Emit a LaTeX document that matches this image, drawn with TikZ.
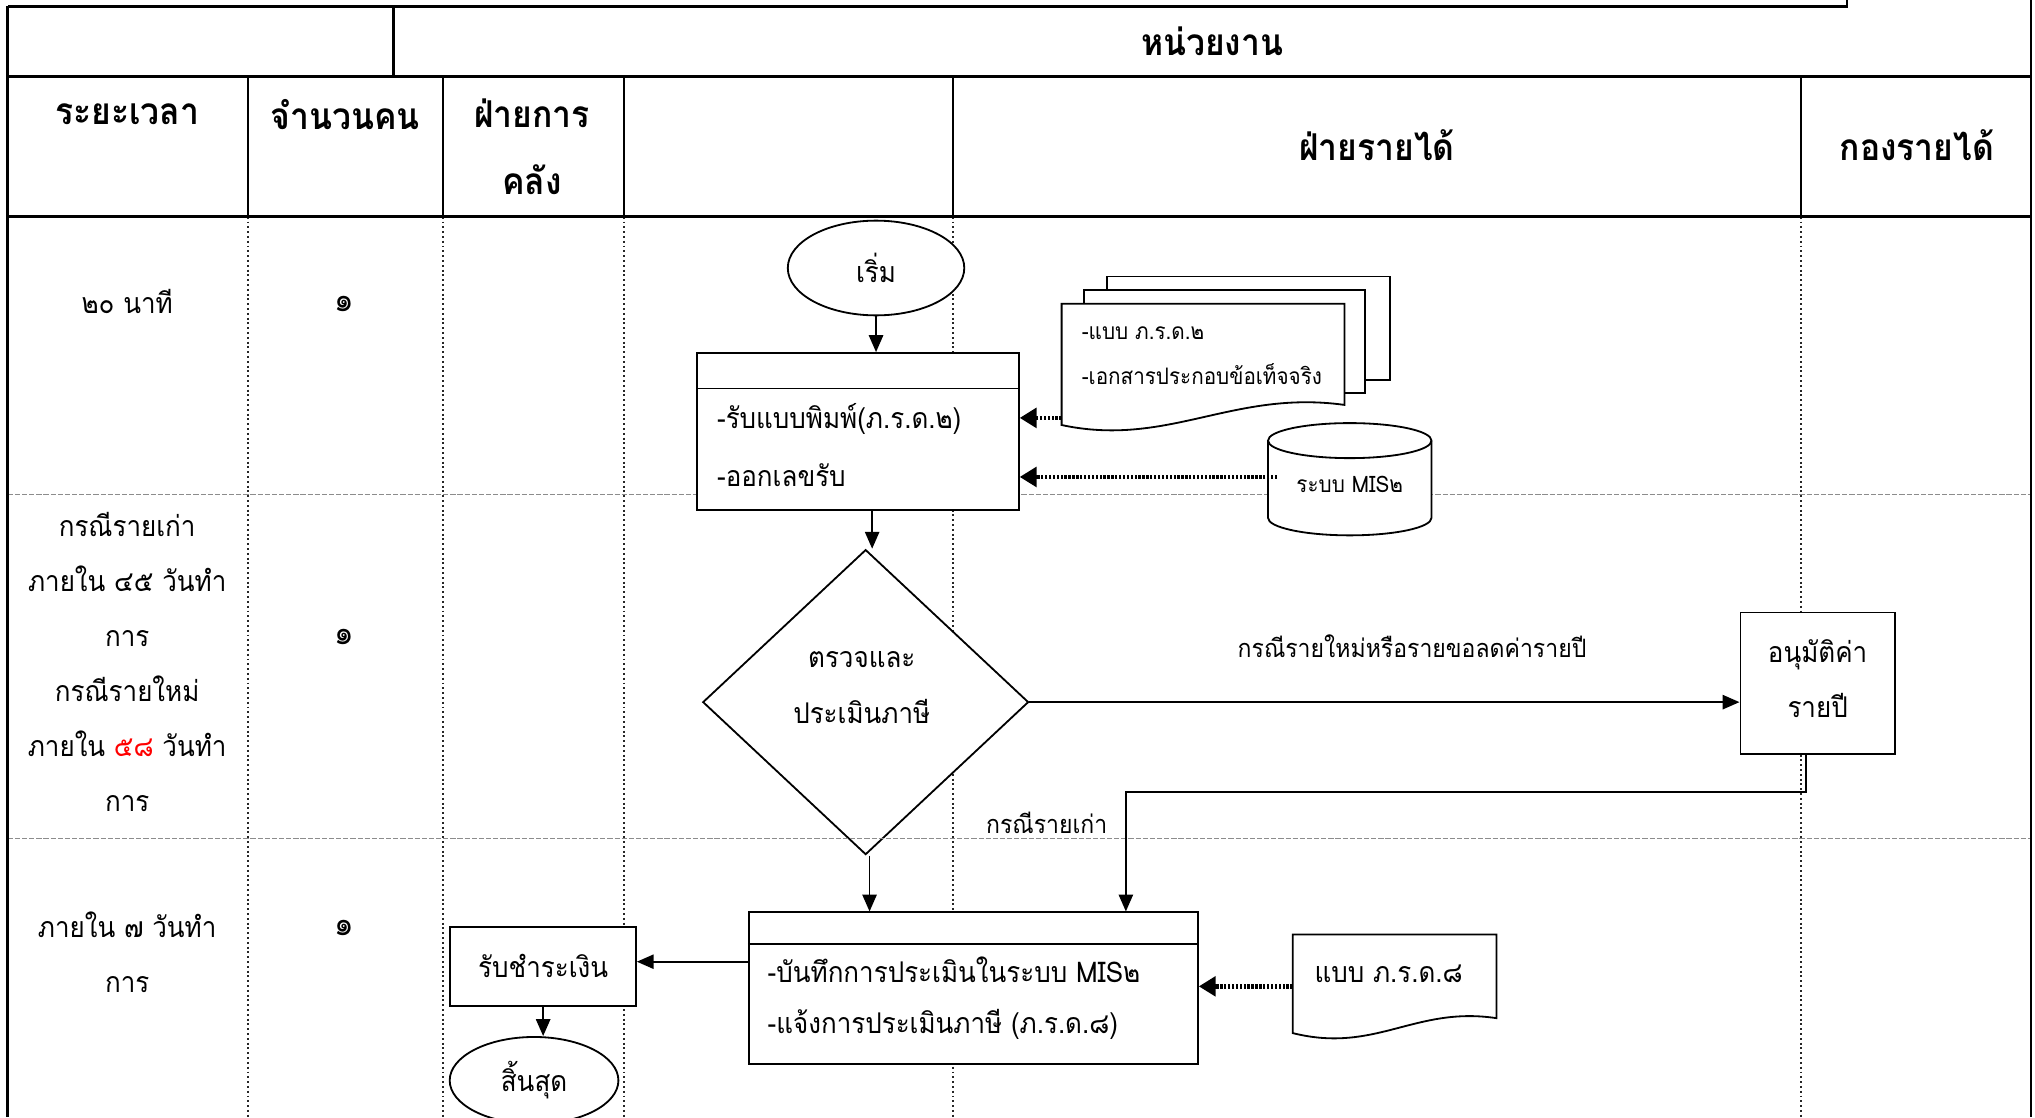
\documentclass[tikz,border=0pt]{standalone}
\usepackage{fontspec}
\setmainfont[Script=Thai, FakeStretch=0.91]{Loma}
\usetikzlibrary{arrows.meta,shapes.geometric,calc}

\begin{document}
\begin{tikzpicture}[x=1pt,y=-1pt,
  frame/.style={line width=2pt},
  lane/.style={line width=1.5pt, black!85, dash pattern=on 1.5pt off 2.2pt},
  rowsep/.style={line width=1pt, black!45, dash pattern=on 4pt off 1.5pt},
  flow/.style={line width=1.4pt},
  arr/.style={flow, -{Triangle[length=13pt,width=11pt]}},
  dotarr/.style={line width=3.6pt, dash pattern=on 1.8pt off 1.2pt,
                 -{Triangle[length=13pt,width=15pt]}},
  head/.style={font=\fontsize{28.5}{32}\selectfont\bfseries},
  body/.style={font=\fontsize{22}{26}\selectfont},
  digit/.style={font=\fontsize{26}{30}\selectfont},
  small/.style={font=\fontsize{17.5}{21}\selectfont},
  lbl/.style={font=\fontsize{19.5}{23}\selectfont},
  box/.style={flow, draw, fill=white, rectangle, inner sep=0pt},
]
\useasboundingbox (0,0) rectangle (1568,861);

% ---------- swim lane guides ----------
\foreach \x in {191,341,481,734,1388} \draw[lane] (\x,167) -- (\x,861);

% ---------- decision ----------
\node[diamond, draw, flow, fill=white, minimum width=251pt, minimum height=235pt,
      inner sep=0pt] (check) at (667,541) {};
\node[body, align=center, font=\fontsize{22}{43}\selectfont] (checkTxt) at (664,529.5)
      {ตรวจและ\\ประเมินภาษี};

% ---------- time bands ----------
\draw[rowsep] (6,381) -- (1566,381);
\draw[rowsep] (6,646) -- (1566,646);

% ---------- table frame ----------
\draw[frame] (6,5) -- (1423,5) -- (1423,0);
\draw[frame] (6,5) -- (6,861);
\draw[frame] (1565,0) -- (1565,861);
\draw[frame] (6,59) -- (1565,59);
\draw[frame] (6,167) -- (1565,167);
\draw[frame] (303,5) -- (303,59);
\foreach \x in {191,341,481,734,1388} \draw[line width=1.5pt] (\x,59) -- (\x,167);

% ---------- headings ----------
\node[head] (hUnit) at (934,32) {หน่วยงาน};
\node[head] (hTime) at (98,88) {ระยะเวลา};
\node[head] (hPeople) at (266,88) {จำนวนคน};
\node[head, align=center, font=\fontsize{28.5}{52}\selectfont\bfseries] (hFin) at (410,113) {ฝ่ายการ\\คลัง};
\node[head] (hRev) at (1061,112) {ฝ่ายรายได้};
\node[head] (hDiv) at (1477,112) {กองรายได้};

% ---------- time and staff columns ----------
\node[body] (t1) at (98,232) {๒๐ นาที};
\node[digit] (n1) at (265,234) {๑};
\node[body, align=center, font=\fontsize{22}{42.4}\selectfont] (t2) at (98,510)
  {กรณีรายเก่า\\ภายใน ๔๕ วันทำ\\การ\\กรณีรายใหม่\\ภายใน \textcolor{red}{๕๘} วันทำ\\การ};
\node[digit] (n2) at (265,491) {๑};
\node[body, align=center, font=\fontsize{22}{42.4}\selectfont] (t3) at (98,734)
  {ภายใน ๗ วันทำ\\การ};
\node[digit] (n3) at (265,715) {๑};

% ---------- documents ----------
\draw[flow, fill=white] (853,213) rectangle (1071,292.8);
\draw[flow, fill=white] (835,223.5) rectangle (1052,302.6);
\draw[flow, fill=white] (818,234) -- (1036,234) -- (1036,312)
   .. controls (950,300) and (900,345) .. (818,327.5) -- cycle;
\node[small, anchor=west] (d1a) at (830,257) {-แบบ ภ.ร.ด.๒};
\node[small, anchor=west] (d1b) at (830,288) {-เอกสารประกอบข้อเท็จจริง};
\coordinate (docIn) at (818,322);

\draw[flow, fill=white] (996,720) -- (1153,720) -- (1153,784.5)
   .. controls (1090,775) and (1060,812) .. (996,796) -- cycle;
\node[body] (d8) at (1070,750) {แบบ ภ.ร.ด.๘};
\coordinate (docOut) at (996,760);

% ---------- database ----------
\draw[flow, fill=white] (977,339.5) -- (977,399)
   arc[start angle=180, end angle=360, x radius=63pt, y radius=13.5pt]
   -- (1103,339.5)
   arc[start angle=0, end angle=180, x radius=63pt, y radius=13.5pt] -- cycle;
\draw[flow] (977,339.5) arc[start angle=180, end angle=360, x radius=63pt, y radius=13.5pt];
\node[small] (mis) at (1040,373) {ระบบ MIS๒};
\coordinate (misOut) at (984,367.5);

% ---------- process steps ----------
\node[ellipse, draw, flow, fill=white, minimum width=136pt, minimum height=73pt, body] (start) at (675,206.5) {เริ่ม};

\node[box, minimum width=248pt, minimum height=121pt] (recv) at (661,332.5) {};
\draw[flow] ([yshift=-28pt]recv.north west) -- ([yshift=-28pt]recv.north east);
\node[body, anchor=west] (recvA) at (549,323) {-รับแบบพิมพ์(ภ.ร.ด.๒)};
\node[body, anchor=west] (recvB) at (549,366) {-ออกเลขรับ};

\node[box, minimum width=119pt, minimum height=109pt] (approve) at (1400.5,526.5) {};
\node[body, align=center, font=\fontsize{22}{42}\selectfont] (approveTxt) at (1400.5,523) {อนุมัติค่า\\รายปี};

\node[box, minimum width=346pt, minimum height=117pt] (record) at (750,761.5) {};
\draw[flow] ([yshift=-25pt]record.north west) -- ([yshift=-25pt]record.north east);
\node[body, anchor=west] (recA) at (588,747) {-บันทึกการประเมินในระบบ MIS๒};
\node[body, anchor=west] (recB) at (588,789) {-แจ้งการประเมินภาษี (ภ.ร.ด.๘)};

\node[box, minimum width=143pt, minimum height=61pt, body] (pay) at (418.5,744.5) {รับชำระเงิน};
\node[ellipse, draw, flow, fill=white, minimum width=130pt, minimum height=67pt, body] (finish) at (411.5,832.5) {สิ้นสุด};

% ---------- labels ----------
\node[lbl] (lblNew) at (1088,498) {กรณีรายใหม่หรือรายขอลดค่ารายปี};
\node[lbl, fill=white, minimum width=123pt, inner ysep=2pt] (lblOld) at (806.5,634) {กรณีรายเก่า};

% ---------- connectors ----------
\draw[arr] (start.south) -- (start.south |- recv.north);
\draw[arr] ([xshift=11pt]recv.south) -- ([xshift=11pt]recv.south |- check.north);
\draw[arr] (check.east) -- (check.east -| approve.west);
\coordinate (bend) at (867.5,610);
\draw[arr] ([xshift=-9pt]approve.south) |- (bend) -- (bend |- record.north);
\draw[arr] ([xshift=3pt]check.south) -- ([xshift=3pt]check.south |- record.north);
\draw[arr] (record.west |- 0,741) -- (pay.east |- 0,741);
\draw[arr] (pay.south) -- (pay.south |- finish.north);
\draw[dotarr] (docIn) -- (docIn -| recv.east);
\draw[dotarr] (misOut) -- (misOut -| recv.east);
\draw[dotarr] (docOut) -- (docOut -| record.east);

\end{tikzpicture}
\end{document}
